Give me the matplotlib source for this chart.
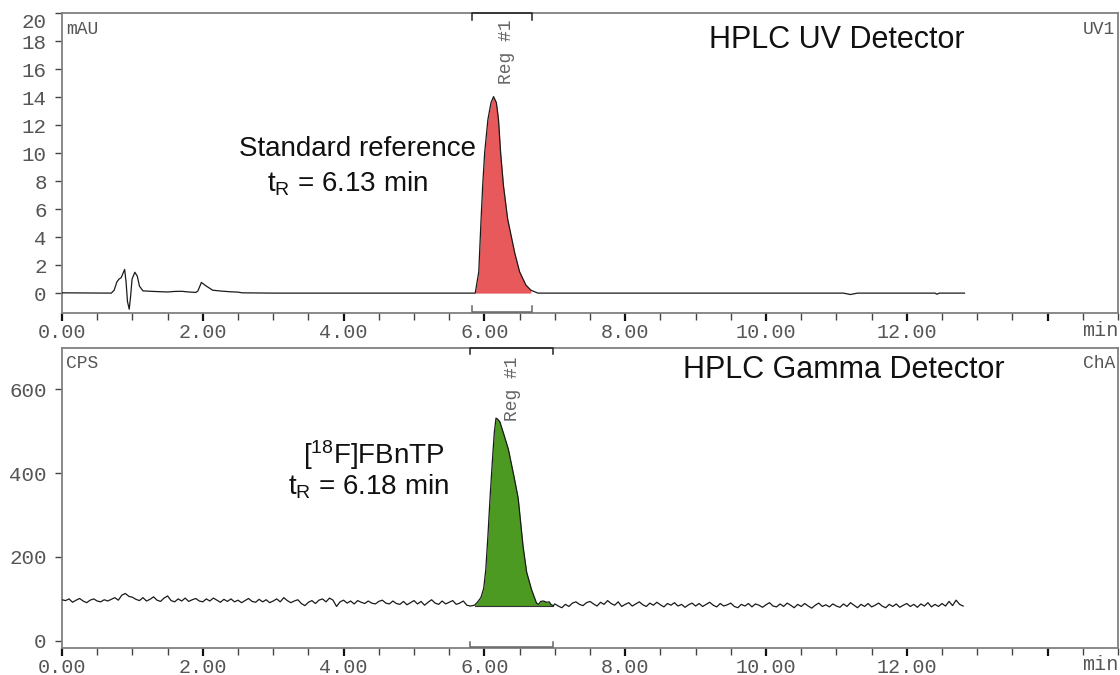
import numpy as np
import matplotlib
matplotlib.use("Agg")
import matplotlib.pyplot as plt
import matplotlib.transforms as mtransforms
from matplotlib.ticker import MultipleLocator, FixedLocator

plt.rcParams['font.family'] = ['Liberation Sans', 'DejaVu Sans']
plt.rcParams['mathtext.fontset'] = 'custom'
plt.rcParams['mathtext.rm'] = 'Liberation Sans'
plt.rcParams['mathtext.it'] = 'Liberation Sans:italic'

MONO = ['Liberation Mono', 'DejaVu Sans Mono']

# ---------------- UV detector trace (min, mAU) ----------------
uv_time = [0.00, 0.70, 0.74, 0.78, 0.81, 0.84, 0.89, 0.91, 0.93, 0.955, 0.975,
           0.995, 1.035, 1.07, 1.10, 1.15, 1.30, 1.50, 1.60, 1.70, 1.80, 1.90,
           1.93, 1.98, 2.05, 2.14, 2.25, 2.38, 2.50, 2.56, 3.00, 4.00, 5.00,
           5.80, 5.87, 5.92, 5.953, 5.976, 6.004, 6.05, 6.094, 6.13, 6.17,
           6.20, 6.23, 6.27, 6.33, 6.43, 6.50, 6.59, 6.66, 6.76, 7.50, 9.00,
           11.10, 11.20, 11.30, 12.40, 12.43, 12.46, 12.82]
uv_signal = [0.02, 0.0, 0.2, 0.8, 1.0, 1.1, 1.69, 0.8, -0.6, -1.15, -0.2,
             1.0, 1.49, 1.2, 0.5, 0.16, 0.12, 0.08, 0.12, 0.13, 0.08, 0.05,
             0.15, 0.76, 0.5, 0.21, 0.15, 0.10, 0.07, 0.02, 0.0, 0.0, 0.0,
             0.0, 0.0, 1.52, 5.3, 7.7, 10.05, 12.4, 13.6, 14.03, 13.6,
             12.4, 10.05, 7.7, 5.3, 2.89, 1.52, 0.57, 0.21, 0.0, 0.0, 0.0,
             0.0, -0.1, 0.0, 0.0, -0.08, 0.0, 0.0]
uv_region = (5.83, 6.68)

# ---------------- Gamma detector trace (min, CPS) ----------------
gamma_pre_start, gamma_step = 0.00, 0.05
gamma_pre = [98, 96, 100, 92, 97, 101, 95, 91, 97, 100,
             95, 93, 98, 95, 99, 103, 97, 109, 113, 106,
             104, 99, 96, 103, 95, 99, 105, 97, 94, 102,
             107, 96, 93, 100, 95, 102, 94, 98, 101, 95,
             93, 100, 95, 102, 97, 92, 99, 94, 100, 93,
             97, 91, 96, 101, 94, 92, 99, 93, 98, 91,
             95, 100, 93, 103, 96, 91, 95, 98, 89, 84,
             92, 96, 89, 97, 100, 93, 102, 97, 82, 93,
             97, 90, 95, 88, 96, 92, 89, 95, 90, 88,
             94, 97, 90, 88, 95, 89, 87, 94, 86, 91,
             96, 88, 94, 85, 92, 98, 90, 87, 95, 88,
             92, 96, 87, 90, 95, 85, 83]
gamma_peak_time = [5.86, 5.90, 5.95, 5.99, 6.02, 6.05, 6.08, 6.11, 6.14,
                   6.165, 6.19, 6.22, 6.28, 6.34, 6.42, 6.48, 6.55, 6.60,
                   6.67, 6.74, 6.77, 6.80, 6.84, 6.88, 6.92, 6.95, 6.98]
gamma_peak_signal = [85, 92, 103, 125, 170, 250, 340, 420, 495,
                     531, 528, 522, 490, 457, 392, 340, 224, 164,
                     122, 90, 87, 94, 95, 92, 93, 86, 84]
gamma_post_start = 7.00
gamma_post = [88, 83, 79, 87, 82, 90, 93, 87, 84, 91,
              94, 88, 83, 92, 87, 96, 89, 85, 93, 82,
              87, 91, 83, 88, 93, 86, 82, 90, 85, 92,
              86, 81, 89, 85, 91, 83, 87, 80, 86, 90,
              83, 89, 82, 87, 92, 85, 81, 89, 83, 86,
              90, 82, 79, 87, 83, 89, 81, 88, 85, 80,
              86, 91, 83, 81, 88, 82, 90, 85, 79, 87,
              82, 89, 83, 78, 85, 90, 82, 86, 81, 88,
              83, 80, 88, 82, 91, 85, 79, 87, 82, 89,
              81, 85, 90, 83, 79, 87, 82, 88, 80, 85,
              89, 82, 87, 80, 88, 83, 91, 81, 87, 82,
              89, 83, 94, 84, 97, 87, 83]
gamma_region = (5.80, 6.98)
gamma_fill_base = 84

x_major = [0, 2, 4, 6, 8, 10, 12, 14]
x_labels = ['0.00', '2.00', '4.00', '6.00', '8.00', '10.00', '12.00', '']

# ---------------- assemble gamma series ----------------
t_pre = gamma_pre_start + gamma_step * np.arange(len(gamma_pre))
t_post = gamma_post_start + gamma_step * np.arange(len(gamma_post))
g_time = np.concatenate([t_pre, gamma_peak_time, t_post])
g_sig = np.concatenate([gamma_pre, gamma_peak_signal, gamma_post]).astype(float)

uv_t = np.array(uv_time)
uv_s = np.array(uv_signal)

# ---------------- figure ----------------
fig = plt.figure(figsize=(11.2, 6.75), dpi=100)
W, H = 1120, 675
ax1 = fig.add_axes([62 / W, 1 - 313 / H, 1056 / W, 300 / H])
ax2 = fig.add_axes([62 / W, 1 - 648 / H, 1056 / W, 300 / H])

SPINE = '#808080'
LABEL = '#555555'


def style_axes(ax, ylim, yticks):
    ax.set_xlim(0, 15)
    ax.set_ylim(*ylim)
    for s in ax.spines.values():
        s.set_color(SPINE)
        s.set_linewidth(1.3)
    ax.xaxis.set_major_locator(FixedLocator(x_major))
    ax.set_xticklabels(x_labels)
    ax.xaxis.set_minor_locator(MultipleLocator(0.5))
    ax.tick_params(axis='x', which='major', direction='out', length=6,
                   width=1.6, color='#111111', pad=1, labelsize=14.5,
                   labelcolor=LABEL)
    ax.tick_params(axis='x', which='minor', direction='out', length=5,
                   width=1.0, color='#444444')
    ax.set_yticks(yticks)
    ax.tick_params(axis='y', direction='out', length=5, width=1.0,
                   color='#444444', pad=6, labelsize=15, labelcolor=LABEL)
    for lab in ax.get_xticklabels() + ax.get_yticklabels():
        lab.set_fontfamily(MONO)
    # unit label sits on the tick-label row at the right end of the axis
    off = mtransforms.offset_copy(ax.transAxes, fig=fig, x=0, y=-17,
                                  units='dots')
    ax.text(1.0, 0.0, 'min', transform=off, ha='right', va='center',
            fontsize=14.5, color=LABEL, family=MONO)


def region_marks(ax, region, top_drop, bottom_rise, bottom_offset, label_x,
                 label_y, color_top='#222222', color_bot='#666666'):
    tr = mtransforms.blended_transform_factory(ax.transData, ax.transAxes)
    a, b = region
    ax.plot([a, a, b, b], [1 - top_drop, 1, 1, 1 - top_drop], color=color_top,
            lw=1.1, transform=tr, clip_on=False, zorder=5)
    y0 = bottom_offset
    ax.plot([a, a, b, b], [y0 + bottom_rise, y0, y0, y0 + bottom_rise],
            color=color_bot, lw=1.1, transform=tr, clip_on=False, zorder=5)
    ax.text(label_x, label_y, 'Reg #1', transform=tr, rotation=90,
            ha='center', va='center', fontsize=13, color='#666666',
            family=MONO)


# ---- top panel: UV ----
style_axes(ax1, (-1.42, 20), list(range(0, 21, 2)))
ax1.get_yticklabels()[-1].set_verticalalignment('top')
mask = (uv_t >= uv_region[0]) & (uv_t <= uv_region[1])
ax1.fill_between(uv_t[mask], 0, uv_s[mask], color='#E8595B', lw=0, zorder=2)
ax1.plot(uv_t, uv_s, color='#1a1a1a', lw=0.9, zorder=3)
region_marks(ax1, uv_region, 0.023, 0.02, 0.004, 6.32, 0.87)
ax1.text(0.004, 0.975, 'mAU', transform=ax1.transAxes, ha='left', va='top',
         fontsize=13, color=LABEL, family=MONO)
ax1.text(0.997, 0.975, 'UV1', transform=ax1.transAxes, ha='right', va='top',
         fontsize=13, color=LABEL, family=MONO)
ax1.text(11.0, 18.1, 'HPLC UV Detector', ha='center', va='center',
         fontsize=22, color='#111111')
ax1.text(4.2, 10.3, 'Standard reference', ha='center', va='center',
         fontsize=20, color='#111111')
ax1.text(4.06, 7.82, r't$_{\mathrm{R}}$ = 6.13 min', ha='center', va='center',
         fontsize=20, color='#111111')

# ---- bottom panel: gamma ----
style_axes(ax2, (-17, 698), [0, 200, 400, 600])
gmask = (g_time >= 5.86) & (g_time <= gamma_region[1])
ax2.fill_between(g_time[gmask], gamma_fill_base, g_sig[gmask],
                 where=g_sig[gmask] >= gamma_fill_base, interpolate=True,
                 color='#4C9A22', lw=0, zorder=2)
ax2.plot([5.86, gamma_region[1]], [gamma_fill_base, gamma_fill_base],
         color='#333333', lw=0.8, zorder=3)
ax2.plot(g_time, g_sig, color='#1a1a1a', lw=0.9, zorder=3)
region_marks(ax2, gamma_region, 0.02, 0.018, 0.003, 6.40, 0.865)
ax2.text(0.004, 0.975, 'CPS', transform=ax2.transAxes, ha='left', va='top',
         fontsize=13, color=LABEL, family=MONO)
ax2.text(0.997, 0.975, 'ChA', transform=ax2.transAxes, ha='right', va='top',
         fontsize=13, color=LABEL, family=MONO)
ax2.text(11.1, 645, 'HPLC Gamma Detector', ha='center', va='center',
         fontsize=22, color='#111111')
ax2.text(4.43, 443, r'[$^{\mathrm{18}}$F]FBnTP', ha='center', va='center',
         fontsize=20, color='#111111')
ax2.text(4.36, 367, r't$_{\mathrm{R}}$ = 6.18 min', ha='center', va='center',
         fontsize=20, color='#111111')

fig.savefig('out.png', dpi=100, facecolor='white')
